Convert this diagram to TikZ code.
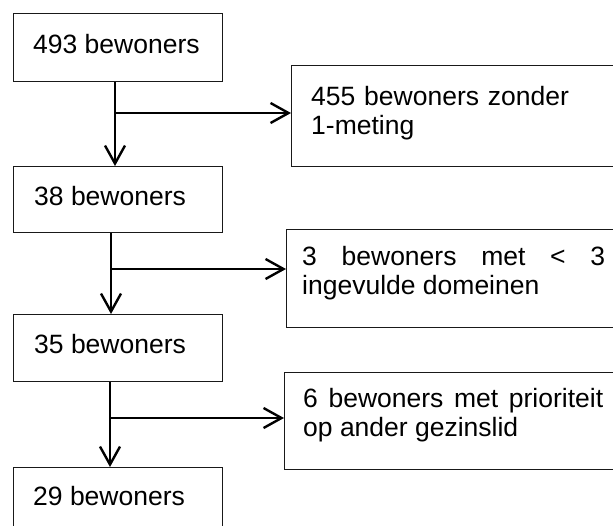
\documentclass[tikz,border=0pt]{standalone}
\usepackage{fontspec}
\setmainfont{Liberation Sans}
\usetikzlibrary{arrows.meta}
\tolerance=10000
\hyphenpenalty=10000
\exhyphenpenalty=10000
\newcommand{\flowfont}{\fontsize{26.5}{29}\selectfont}
\newcommand{\flowpar}[1]{\fontsize{26.5}{29}\selectfont\baselineskip=29pt #1\par}
\begin{document}
\begin{tikzpicture}[x=1pt,y=-1pt,
  box/.style={draw=black!90, line width=1.1pt, rectangle, inner sep=0pt, anchor=north west},
  txt/.style={inner sep=0pt, anchor=base west, font=\flowfont},
  conn/.style={line width=2.4pt, -{Straight Barb[length=18pt,width=20pt]}}]
\useasboundingbox (0,0) rectangle (613,525);
\clip (0,0) rectangle (613,525);
\fill[white] (0,0) rectangle (613,525);
% boxes
\node[box, minimum width=209pt, minimum height=68pt] (b1) at (13,13) {};
\node[box, minimum width=360pt, minimum height=101pt] (b2) at (291,65) {};
\node[box, minimum width=209pt, minimum height=66pt] (b3) at (13,166) {};
\node[box, minimum width=360pt, minimum height=98pt] (b4) at (286,229) {};
\node[box, minimum width=209pt, minimum height=67pt] (b5) at (13,314) {};
\node[box, minimum width=360pt, minimum height=97pt] (b6) at (284,372) {};
\node[box, minimum width=209pt, minimum height=80pt] (b7) at (13,467) {};
% texts
\node[txt] (t1) at (33,53) {493 bewoners};
\node[txt] (t3) at (34,205) {38 bewoners};
\node[txt] (t5) at (34,353) {35 bewoners};
\node[txt] (t7) at (33,505) {29 bewoners};
\node[txt, text width=268pt, align=left] (t2) at (311,105) {\flowpar{455 bewoners zonder 1-meting}};
\node[txt, text width=303pt, align=justify] (t4) at (302,265) {\flowpar{3 bewoners met < 3 ingevulde domeinen}};
\node[txt, text width=300pt, align=justify] (t6) at (303,407) {\flowpar{6 bewoners met prioriteit op ander gezinslid}};
% connectors
\coordinate (j1) at (115,113);
\coordinate (j2) at (111,269);
\coordinate (j3) at (110,418);
\draw[conn] (b1.south -| j1) -- (b3.north -| j1);
\draw[conn] (j1) -- (b2.west |- j1);
\draw[conn] (b3.south -| j2) -- (b5.north -| j2);
\draw[conn] (j2) -- (b4.west |- j2);
\draw[conn] (b5.south -| j3) -- (b7.north -| j3);
\draw[conn] (j3) -- (b6.west |- j3);
\end{tikzpicture}
\end{document}
